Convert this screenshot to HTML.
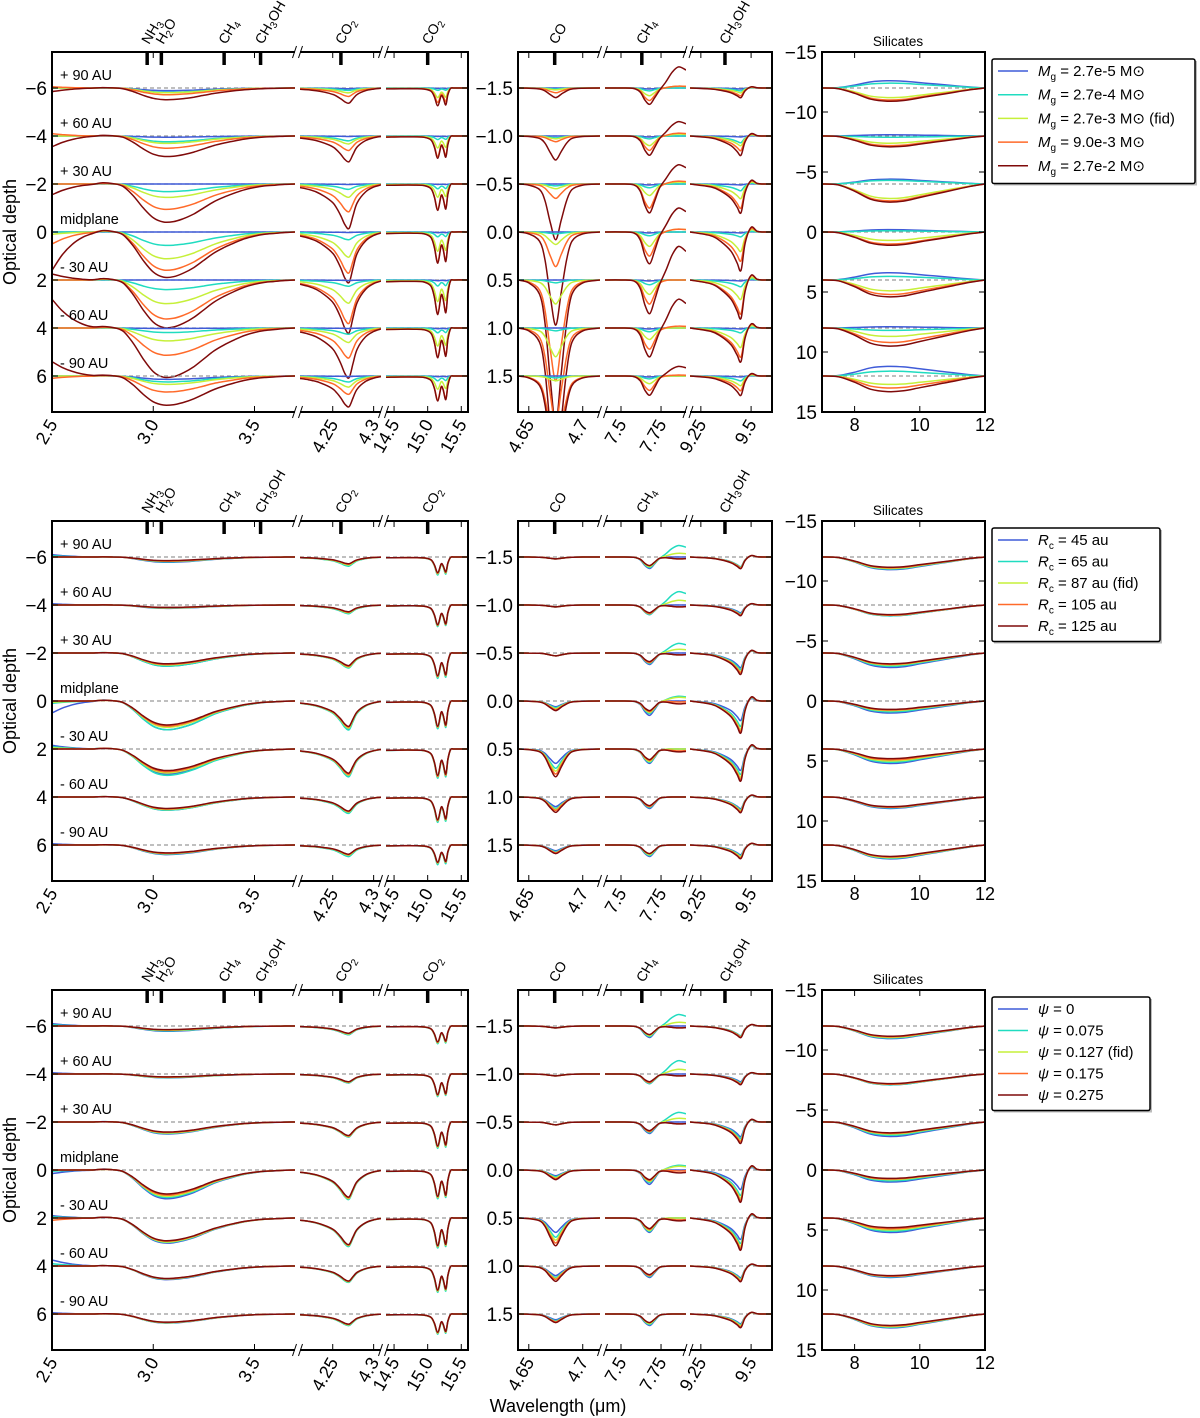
<!DOCTYPE html>
<html><head><meta charset="utf-8"><style>
html,body{margin:0;padding:0;background:#fff;}
svg{display:block;font-family:"Liberation Sans","DejaVu Sans",sans-serif;}
</style></head><body>
<svg id="fig" width="1200" height="1418" viewBox="0 0 1200 1418" xmlns="http://www.w3.org/2000/svg"></svg>
<script>
// ---------- DATA ----------
const seriesColors=["#3f5bd8","#20dcc0","#c6f03a","#ff6a2a","#7f0a0a"];
const rowLegends=[
 ["= 2.7e-5 M\u2299","= 2.7e-4 M\u2299","= 2.7e-3 M\u2299  (fid)","= 9.0e-3 M\u2299","= 2.7e-2 M\u2299"],
 ["= 45 au","= 65 au","= 87 au (fid)","= 105 au","= 125 au"],
 ["= 0","= 0.075","= 0.127 (fid)","= 0.175","= 0.275"]];
const offsetsIR=[-6,-4,-2,0,2,4,6];
const offsetsCO=[-1.5,-1.0,-0.5,0,0.5,1.0,1.5];
const offsetsSil=[-12,-8,-4,0,4,8,12];
const groupLabels=["+ 90 AU","+ 60 AU","+ 30 AU","midplane","- 30 AU","- 60 AU","- 90 AU"];

const waterLam=[2.5,2.55,2.6,2.65,2.7,2.75,2.8,2.85,2.9,2.95,3.0,3.05,3.1,3.15,3.2,3.25,3.3,3.35,3.4,3.45,3.5,3.55,3.6,3.65,3.7];
const waterShape=[0,0,0,0,0,-0.03,-0.01,0.06,0.3,0.62,0.88,0.99,0.98,0.9,0.78,0.62,0.46,0.34,0.24,0.15,0.09,0.05,0.03,0.01,0];
const wingShape=[1,0.6,0.32,0.14,0.04,0,0,0,0,0,0,0,0,0,0,0,0,0,0,0,0,0,0,0,0];
const co2aLam=[4.21,4.22,4.23,4.24,4.25,4.255,4.26,4.265,4.27,4.275,4.28,4.29,4.30,4.309];
const co2aShape=[0.08,0.12,0.18,0.28,0.42,0.55,0.72,0.92,1.0,0.7,0.42,0.18,0.07,0.02];
const co2bLam=[14.38,14.6,14.8,14.95,15.05,15.1,15.15,15.2,15.23,15.27,15.3,15.34,15.4,15.6];
const co2bShape=[0.05,0.04,0.04,0.06,0.18,0.5,1.0,0.45,0.55,0.95,0.4,0.03,0,0];
const coLam=[4.64,4.65,4.66,4.665,4.67,4.675,4.68,4.685,4.69,4.70,4.716];
const coShape=[0,0.02,0.1,0.3,0.7,1.0,0.65,0.3,0.1,0.02,0];
const ch4Lam=[7.4,7.5,7.58,7.62,7.65,7.68,7.71,7.74,7.78,7.82,7.86,7.906];
const ch4Dip=[0,0,0.03,0.25,0.75,1.0,0.6,0.15,0.02,0,0,0];
const ch4Bump=[0,0,0,0,0,0,0,0,0.3,0.75,1.0,0.85];
const ch3Lam=[9.196,9.3,9.35,9.4,9.43,9.45,9.47,9.5,9.53,9.56,9.604];
const ch3Dip=[0,0.1,0.25,0.5,0.8,1.0,0.3,-0.12,-0.02,0,0];
const silLam=[7,7.5,8,8.5,9,9.5,10,10.5,11,11.5,12];
const silShape=[0,0.05,0.4,0.85,1.0,0.95,0.75,0.55,0.35,0.15,0];

// Row 1: gas mass
const r1Water=[[0.11,0.18,0.2,0.28,0.49],[0.05,0.24,0.31,0.51,0.86],[0,0.32,0.56,1.06,1.6],[0,0.56,1.12,1.6,1.9],[0,0.4,0.99,1.63,2.0],[0.02,0.19,0.54,1.14,2.07],[0.14,0.25,0.35,0.67,1.22]];
const r1Wing=[[0,0,0,-0.05,0.15],[0,0,0,-0.1,0.45],[0,0,0,0,0.45],[0,0,0.1,0.5,1.6],[0,0,0,0,-0.25],[0,0,0,0,-1.2],[0,0,0,0.1,-0.6]];
const r1Co2a=[[0.03,0.1,0.2,0.35,0.63],[0.02,0.2,0.33,0.6,1.07],[0.02,0.22,0.55,1.15,1.85],[0.02,0.32,1.04,1.7,2.1],[0.02,0.26,0.96,1.8,2.2],[0.02,0.26,0.6,1.24,2.07],[0.02,0.25,0.46,0.76,1.28]];
const r1Co2b=[[0.02,0.1,0.4,0.6,0.74],[0.02,0.15,0.5,0.85,0.93],[0.02,0.2,0.55,1.05,1.1],[0.03,0.2,0.8,1.25,1.3],[0.03,0.25,0.9,1.4,1.44],[0.03,0.2,0.75,1.2,1.24],[0.03,0.2,0.55,1.0,1.04]];
const r1Co=[[0,0.01,0.02,0.05,0.1],[0,0.02,0.03,0.06,0.25],[0,0.02,0.05,0.15,0.58],[0,0.02,0.13,0.36,0.97],[0,0.03,0.25,1.05,1.5],[0,0.03,0.3,1.0,1.5],[0,0.02,0.05,0.8,1.0]];
const r1Ch4=[[0.01,0.03,0.08,0.13,0.17],[0.01,0.03,0.1,0.15,0.2],[0.01,0.04,0.12,0.25,0.3],[0.01,0.04,0.15,0.25,0.33],[0.01,0.05,0.15,0.25,0.35],[0.01,0.04,0.12,0.22,0.3],[0.01,0.03,0.08,0.15,0.2]];
const r1Ch4Bump=[[0,0,-0.02,-0.02,-0.22],[0,0,-0.02,-0.03,-0.15],[0,0,-0.02,-0.03,-0.2],[0,0,-0.03,-0.03,-0.25],[0,0,0,0,-0.35],[0,0,0,-0.02,-0.3],[0,0,0,-0.01,-0.1]];
const r1Ch3=[[0.01,0.03,0.05,0.08,0.1],[0.01,0.07,0.1,0.15,0.2],[0.01,0.07,0.15,0.25,0.3],[0.01,0.05,0.2,0.3,0.4],[0.01,0.07,0.2,0.35,0.4],[0.01,0.05,0.2,0.3,0.35],[0.01,0.05,0.1,0.15,0.2]];
const r1Sil=[[-0.6,-0.4,0.8,1.0,1.1],[-0.1,0.1,0.6,0.8,0.9],[-0.4,-0.3,1.2,1.4,1.5],[-0.2,-0.1,0.7,1.0,1.1],[-0.6,-0.3,0.9,1.2,1.4],[-0.1,0.2,0.7,1.2,1.5],[-0.8,-0.4,0.7,1.0,1.3]];

// Row 2: Rc
const r2Water=[[0.22,0.2,0.18,0.17,0.15],[0.14,0.13,0.12,0.11,0.1],[0.55,0.55,0.5,0.48,0.45],[1.2,1.2,1.1,1.05,1.0],[1.05,1.1,1.0,0.95,0.9],[0.55,0.55,0.52,0.5,0.48],[0.4,0.38,0.36,0.35,0.33]];
const r2Wing=[[-0.1,-0.05,0,0,0],[-0.05,0,0,0,0],[0,0,0,0,0],[0.5,0.1,0.05,0,0],[-0.15,-0.1,-0.05,0,0],[0,0,0,0,0],[-0.05,0,0,0,0]];
const r2Co2a=[[0.35,0.38,0.33,0.3,0.28],[0.35,0.36,0.32,0.3,0.28],[0.6,0.62,0.58,0.55,0.52],[1.15,1.2,1.12,1.08,1.05],[1.1,1.15,1.08,1.05,1.0],[0.65,0.68,0.62,0.6,0.58],[0.45,0.48,0.42,0.4,0.38]];
const r2Co2b=[[0.7,0.75,0.7,0.68,0.65],[0.88,0.9,0.86,0.84,0.82],[1.02,1.06,1.0,0.98,0.95],[1.12,1.16,1.1,1.08,1.05],[1.18,1.22,1.16,1.14,1.1],[1.02,1.06,1.0,0.98,0.95],[0.78,0.82,0.76,0.74,0.72]];
// Row 3: psi
const r3Water=[[0.22,0.2,0.18,0.16,0.15],[0.16,0.15,0.14,0.13,0.12],[0.5,0.48,0.46,0.44,0.42],[1.2,1.15,1.1,1.05,1.0],[1.05,1.02,1.0,0.97,0.95],[0.57,0.55,0.54,0.53,0.52],[0.38,0.37,0.36,0.35,0.34]];
const r3Wing=[[-0.1,-0.05,0,0,0],[-0.05,0,0,0,0],[0,0,0,0,0],[0.15,0.05,0,0,0],[-0.1,-0.05,0,0.1,0],[-0.25,-0.1,0,0,0],[-0.05,0,0,0,0]];
const r3Co2a=[[0.36,0.36,0.33,0.31,0.3],[0.37,0.37,0.35,0.33,0.32],[0.62,0.62,0.6,0.58,0.56],[1.2,1.22,1.18,1.15,1.12],[1.16,1.18,1.14,1.12,1.1],[0.67,0.68,0.65,0.63,0.62],[0.47,0.48,0.45,0.43,0.42]];
const r3Co2b=[[0.7,0.74,0.7,0.68,0.66],[0.9,0.94,0.9,0.88,0.86],[1.05,1.1,1.05,1.02,1.0],[1.15,1.2,1.15,1.12,1.1],[1.2,1.25,1.2,1.17,1.15],[1.05,1.1,1.05,1.02,1.0],[0.8,0.84,0.8,0.78,0.76]];
// rows 2 & 3 right-hand panels (nearly identical in both)
const r23Co=[[0.02,0.02,0.02,0.02,0.02],[0.02,0.02,0.02,0.02,0.02],[0.03,0.03,0.03,0.03,0.03],[0.06,0.07,0.08,0.09,0.1],[0.15,0.2,0.23,0.26,0.29],[0.1,0.12,0.13,0.14,0.16],[0.06,0.07,0.08,0.08,0.09]];
const r23Ch4=[[0.12,0.11,0.1,0.09,0.09],[0.1,0.1,0.09,0.09,0.08],[0.12,0.11,0.1,0.1,0.09],[0.15,0.13,0.12,0.11,0.1],[0.15,0.14,0.13,0.12,0.11],[0.12,0.11,0.1,0.1,0.09],[0.12,0.11,0.1,0.09,0.09]];
const r23Ch4Bump=[[0,-0.12,-0.04,0.02,0.02],[0,-0.14,-0.05,0.02,0.02],[0,-0.1,-0.04,0.02,0.02],[0,-0.05,-0.04,0.01,0.03],[0,0,0,0.02,0.03],[0,0,0,0,0],[0,0,0,0,0]];
const r23Ch3=[[0.1,0.1,0.11,0.11,0.12],[0.08,0.09,0.1,0.1,0.11],[0.15,0.17,0.19,0.2,0.22],[0.2,0.26,0.29,0.31,0.33],[0.22,0.26,0.29,0.31,0.33],[0.12,0.13,0.14,0.15,0.16],[0.1,0.11,0.12,0.13,0.14]];
const r23Sil=[[1.05,1.0,0.95,0.9,0.85],[0.9,0.9,0.85,0.85,0.8],[1.2,1.1,1.0,0.95,0.9],[1.0,0.9,0.8,0.75,0.7],[1.2,1.1,1.0,0.9,0.8],[0.95,0.9,0.85,0.85,0.8],[1.15,1.1,1.05,1.0,0.95]];

// ---------- LAYOUT ----------
const rowTops=[52,521,990];
const H=360;
const segs=[
 {x0:52,x1:295,l0:2.5,l1:3.7,g:0,ticks:[2.5,3.0,3.5],tl:["2.5","3.0","3.5"],marks:[2.97,3.04,3.35,3.53],ml:[["NH","3"],["H","2","O"],["CH","4"],["CH","3","OH"]]},
 {x0:300,x1:381,l0:4.21,l1:4.309,g:0,ticks:[4.25,4.3],tl:["4.25","4.3"],marks:[4.26],ml:[["CO","2"]]},
 {x0:386,x1:468,l0:14.38,l1:15.6,g:0,ticks:[14.5,15.0,15.5],tl:["14.5","15.0","15.5"],marks:[15.0],ml:[["CO","2"]]},
 {x0:518,x1:600,l0:4.64,l1:4.716,g:1,ticks:[4.65,4.7],tl:["4.65","4.7"],marks:[4.674],ml:[["CO"]]},
 {x0:605,x1:686,l0:7.4,l1:7.906,g:1,ticks:[7.5,7.75],tl:["7.5","7.75"],marks:[7.63],ml:[["CH","4"]]},
 {x0:690,x1:772,l0:9.196,l1:9.604,g:1,ticks:[9.25,9.5],tl:["9.25","9.5"],marks:[9.37],ml:[["CH","3","OH"]]},
 {x0:822,x1:985,l0:7,l1:12,g:2,ticks:[8,10,12],tl:["8","10","12"],marks:[],ml:[]}];
const yPer=[24,96,12];
const NS="http://www.w3.org/2000/svg";
const svg=document.getElementById('fig');
function mk(tag,attrs,parent){const e=document.createElementNS(NS,tag);for(const k in attrs)e.setAttribute(k,attrs[k]);(parent||svg).appendChild(e);return e;}
function xs(s,l){return s.x0+(l-s.l0)/(s.l1-s.l0)*(s.x1-s.x0);}
function ys(top,g,v){return top+H/2+v*yPer[g];}
function smoothPath(pts){let d="M"+pts[0][0].toFixed(1)+","+pts[0][1].toFixed(1);
 for(let i=0;i<pts.length-1;i++){const p0=pts[i-1]||pts[i],p1=pts[i],p2=pts[i+1],p3=pts[i+2]||p2;
  const c1x=p1[0]+(p2[0]-p0[0])/6,c1y=p1[1]+(p2[1]-p0[1])/6,c2x=p2[0]-(p3[0]-p1[0])/6,c2y=p2[1]-(p3[1]-p1[1])/6;
  d+=" C"+c1x.toFixed(1)+","+c1y.toFixed(1)+" "+c2x.toFixed(1)+","+c2y.toFixed(1)+" "+p2[0].toFixed(1)+","+p2[1].toFixed(1);}
 return d;}

function rowData(r){
 const W=[r1Water,r2Water,r3Water][r],Wi=[r1Wing,r2Wing,r3Wing][r],A=[r1Co2a,r2Co2a,r3Co2a][r],B=[r1Co2b,r2Co2b,r3Co2b][r];
 const C=r?r23Co:r1Co,D=r?r23Ch4:r1Ch4,Db=r?r23Ch4Bump:r1Ch4Bump,E=r?r23Ch3:r1Ch3,S=r?r23Sil:r1Sil;
 return [
  {lam:waterLam,comps:[[waterShape,W],[wingShape,Wi]],off:offsetsIR},
  {lam:co2aLam,comps:[[co2aShape,A]],off:offsetsIR},
  {lam:co2bLam,comps:[[co2bShape,B]],off:offsetsIR},
  {lam:coLam,comps:[[coShape,C]],off:offsetsCO},
  {lam:ch4Lam,comps:[[ch4Dip,D],[ch4Bump,Db]],off:offsetsCO},
  {lam:ch3Lam,comps:[[ch3Dip,E]],off:offsetsCO},
  {lam:silLam,comps:[[silShape,S]],off:offsetsSil}];
}

for(let r=0;r<3;r++){
 const top=rowTops[r],bot=top+H;
 const rowG=mk('g',{});
 
 
 const data=rowData(r);
 const clipId='clip'+r;
 segs.forEach((s,si)=>{
  const cp=mk('clipPath',{id:clipId+'_'+si},rowG);mk('rect',{x:s.x0,y:top,width:s.x1-s.x0,height:H},cp);
  const sg=mk('g',{'clip-path':'url(#'+clipId+'_'+si+')'},rowG);
  
  
  const dd=data[si];
  dd.off.forEach((o,oi)=>{
   const bl=mk('line',{x1:s.x0,x2:s.x1,y1:ys(top,s.g,o),y2:ys(top,s.g,o),stroke:'#999','stroke-width':1.2,'stroke-dasharray':'4,3'},sg);
   
   
   for(let k=0;k<5;k++){
    const pts=dd.lam.map((l,i)=>{let v=o;dd.comps.forEach(c=>{v+=c[0][i]*c[1][oi][k];});return [xs(s,l),ys(top,s.g,v)];});
    const p=mk('path',{d:smoothPath(pts),fill:'none',stroke:seriesColors[k],'stroke-width':1.5},sg);
    
    
   }
  });
  mk('line',{x1:s.x0-(si==0||si==3||si==6?1:0),x2:s.x1+(si==2||si==5||si==6?1:0),y1:top,y2:top,stroke:'#000','stroke-width':2},rowG);
  mk('line',{x1:s.x0-(si==0||si==3||si==6?1:0),x2:s.x1+(si==2||si==5||si==6?1:0),y1:bot,y2:bot,stroke:'#000','stroke-width':2},rowG);
  s.ticks.forEach((t,ti)=>{const x=xs(s,t);
   mk('line',{x1:x,x2:x,y1:top,y2:top+6,stroke:'#000','stroke-width':1},rowG);
   mk('line',{x1:x,x2:x,y1:bot,y2:bot-6,stroke:'#000','stroke-width':1},rowG);
   let tx;
   if(s.g==2){tx=mk('text',{x:x,y:bot+19,'font-size':18,'text-anchor':'middle'},rowG);}
   else{tx=mk('text',{x:x+6,y:bot+12,'font-size':18,'text-anchor':'end',transform:'rotate(-60 '+(x+6)+' '+(bot+12)+')'},rowG);}
   tx.textContent=s.tl[ti];
   
   
  });
  s.marks.forEach((m,mi)=>{const x=xs(s,m);
   mk('line',{x1:x,x2:x,y1:top,y2:top+13,stroke:'#000','stroke-width':3.5},rowG);
   const t=mk('text',{x:x+2,y:top-7,'font-size':14,transform:'rotate(-60 '+(x+2)+' '+(top-7)+')'},rowG);
   
   
   const parts=s.ml[mi];
   parts.forEach((pt,pi)=>{const ts=mk('tspan',pi==1?{'font-size':10,dy:3}:(pi==2?{dy:-3}:{}),t);ts.textContent=pt;});
  });
 });
 [[295,300],[381,386],[600,605],[686,690]].forEach(b=>{const xm=(b[0]+b[1])/2;
  [top,bot].forEach(y=>{mk('line',{x1:xm-5,y1:y+6,x2:xm-1,y2:y-6,stroke:'#000','stroke-width':1},rowG);mk('line',{x1:xm+1,y1:y+6,x2:xm+5,y2:y-6,stroke:'#000','stroke-width':1},rowG);});});
 [[52,468,0],[518,772,1],[822,985,2]].forEach(([xl,xr,g])=>{
  mk('line',{x1:xl,x2:xl,y1:top,y2:bot,stroke:'#000','stroke-width':2},rowG);
  mk('line',{x1:xr,x2:xr,y1:top,y2:bot,stroke:'#000','stroke-width':2},rowG);
  const ticks=g==0?[-6,-4,-2,0,2,4,6]:g==1?[-1.5,-1,-0.5,0,0.5,1,1.5]:[-15,-10,-5,0,5,10,15];
  const labs=g==0?["\u22126","\u22124","\u22122","0","2","4","6"]:g==1?["\u22121.5","\u22121.0","\u22120.5","0.0","0.5","1.0","1.5"]:["\u221215","\u221210","\u22125","0","5","10","15"];
  ticks.forEach((t,i)=>{const y=ys(top,g,t);
   mk('line',{x1:xl,x2:xl+6,y1:y,y2:y,stroke:'#000','stroke-width':1},rowG);
   mk('line',{x1:xr,x2:xr-6,y1:y,y2:y,stroke:'#000','stroke-width':1},rowG);
   const tx=mk('text',{x:xl-5,y:y+7,'font-size':19,'text-anchor':'end'},rowG);
   tx.textContent=labs[i];
   
   });
 });
 offsetsIR.forEach((o,i)=>{const t=mk('text',{x:60,y:ys(top,0,o)-8,'font-size':14.5},rowG);t.textContent=groupLabels[i];
  
  });
 const st=mk('text',{x:898,y:top-6,'font-size':13.5,'text-anchor':'middle'},rowG);st.textContent='Silicates';
 
 
 const yl=mk('text',{x:16,y:top+H/2,'font-size':18,'text-anchor':'middle',transform:'rotate(-90 16 '+(top+H/2)+')'},rowG);yl.textContent='Optical depth';
 
 
 const lw=[203,168,158][r],sp=r==0?23.7:21.5,lt=top+7,lh=sp*5+6;
 const lg=mk('g',{},rowG);
 
 
 mk('rect',{x:994,y:lt+2,width:lw,height:lh,fill:'#bbb'},lg);
 mk('rect',{x:992,y:lt,width:lw,height:lh,fill:'#fff',stroke:'#000','stroke-width':1.5,rx:2},lg);
 for(let k=0;k<5;k++){const y=lt+12+sp*k;
  mk('line',{x1:998,x2:1028,y1:y,y2:y,stroke:seriesColors[k],'stroke-width':1.5},lg);
  const t=mk('text',{x:1038,y:y+5,'font-size':15},lg);
  
  
  const sym=[["M","g"],["R","c"],["\u03c8",""]][r];
  const a=mk('tspan',{'font-style':'italic'},t);a.textContent=sym[0];
  if(sym[1]){const b=mk('tspan',{'font-size':10,dy:4},t);b.textContent=sym[1];const c=mk('tspan',{dy:-4},t);c.textContent=' '+rowLegends[r][k];}
  else{const c=mk('tspan',{},t);c.textContent=' '+rowLegends[r][k];}
 }
}
const xl=mk('text',{x:558,y:1412,'font-size':18,'text-anchor':'middle'});
xl.textContent='Wavelength (\u03bcm)';


</script>
</body></html>
